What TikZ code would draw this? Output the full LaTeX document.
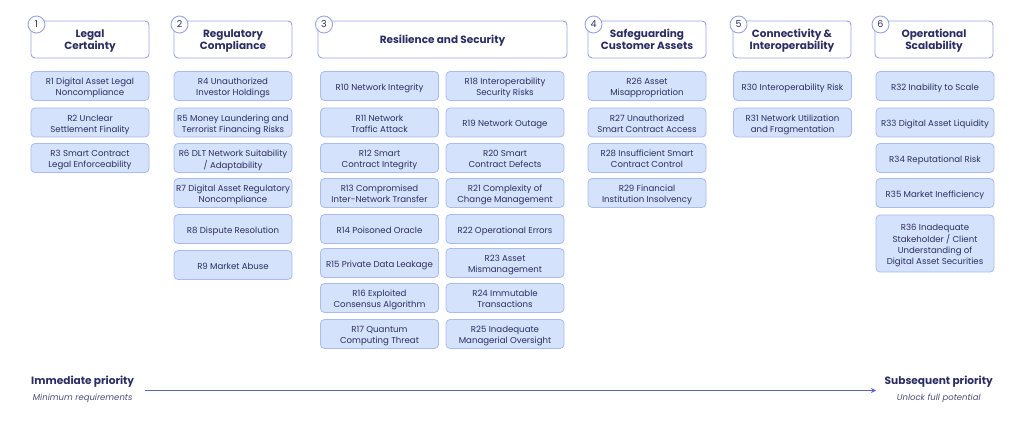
\documentclass[tikz,border=0pt]{standalone}
\usepackage{fontspec}
\setmainfont{Poppins}
\usetikzlibrary{arrows.meta}
\definecolor{navy}{HTML}{2B2E63}
\definecolor{hdrc}{HTML}{9AA3E4}
\definecolor{riskf}{HTML}{D5E2FB}
\definecolor{riskc}{HTML}{A8BCEF}
\definecolor{arrc}{HTML}{5A66CC}
\definecolor{subc}{HTML}{4A4D7A}
\newcommand\lowtxt[2]{\raisebox{-#1}[\height][\depth]{\begin{tabular}{@{}c@{}}#2\end{tabular}}}
\newcommand\hb[1]{\lowtxt{1.3pt}{#1}}
\newcommand\rb[1]{\lowtxt{2pt}{#1}}
\tikzset{
  hdr/.style={draw=hdrc, line width=0.9pt, fill=white, rounded corners=4pt, text=navy,
    font=\fontsize{10.5}{11.6}\selectfont\bfseries, minimum height=37pt, inner sep=0pt},
  num/.style={circle, draw=hdrc, line width=0.9pt, fill=white, minimum size=17pt, inner sep=0pt,
    text=navy, font=\fontsize{9.5}{10}\selectfont},
  risk/.style={draw=riskc, line width=0.8pt, fill=riskf, rounded corners=4pt, text=navy,
    font=\fontsize{8.6}{11.3}\selectfont, minimum width=118pt, minimum height=29pt, inner sep=0pt},
  ttl/.style={text=navy, font=\fontsize{10.6}{12}\selectfont\bfseries, inner sep=0pt},
  sub/.style={text=subc, font=\fontsize{8.5}{10}\selectfont\itshape, inner sep=0pt}
}
\begin{document}
\begin{tikzpicture}[x=1pt,y=-1pt]
\useasboundingbox (0,0) rectangle (1024,430);
% headers
\node[hdr, minimum width=118pt] (h1) at (90,39.5) {\hb{Legal\\Certainty}};
\node[hdr, minimum width=118pt] (h2) at (233,39.5) {\hb{Regulatory\\Compliance}};
\node[hdr, minimum width=249pt] (h3) at (442.5,39.5) {\hb{Resilience and Security}};
\node[hdr, minimum width=118pt] (h4) at (647,39.5) {\hb{Safeguarding\\Customer Assets}};
\node[hdr, minimum width=118pt] (h5) at (792,39.5) {\hb{Connectivity \&\\Interoperability}};
\node[hdr, minimum width=118pt] (h6) at (934,39.5) {\hb{Operational\\Scalability}};
\node[num] (n1) at (36.5,24.5) {1};
\node[num] (n2) at (179.5,24.5) {2};
\node[num] (n3) at (324,24.5) {3};
\node[num] (n4) at (593.5,24.5) {4};
\node[num] (n5) at (738.5,24.5) {5};
\node[num] (n6) at (880.5,24.5) {6};
% column 1
\node[risk] (r1) at (90,86) {\rb{R1 Digital Asset Legal\\Noncompliance}};
\node[risk] (r2) at (90,122.5) {\rb{R2 Unclear\\Settlement Finality}};
\node[risk] (r3) at (90,158) {\rb{R3 Smart Contract\\Legal Enforceability}};
% column 2
\node[risk] (r4) at (233,86) {\rb{R4 Unauthorized\\Investor Holdings}};
\node[risk] (r5) at (233,122.5) {\rb{R5 Money Laundering and\\Terrorist Financing Risks}};
\node[risk] (r6) at (233,158) {\rb{R6 DLT Network Suitability\\/ Adaptability}};
\node[risk] (r7) at (233,193) {\rb{R7 Digital Asset Regulatory\\Noncompliance}};
\node[risk] (r8) at (233,229) {\rb{R8 Dispute Resolution}};
\node[risk] (r9) at (233,265) {\rb{R9 Market Abuse}};
% column 3
\node[risk] (r10) at (379.5,86) {\rb{R10 Network Integrity}};
\node[risk] (r11) at (379.5,122.5) {\rb{R11 Network\\Traffic Attack}};
\node[risk] (r12) at (379.5,158) {\rb{R12 Smart\\Contract Integrity}};
\node[risk] (r13) at (379.5,193) {\rb{R13 Compromised\\Inter-Network Transfer}};
\node[risk] (r14) at (379.5,229) {\rb{R14 Poisoned Oracle}};
\node[risk] (r15) at (379.5,263) {\rb{R15 Private Data Leakage}};
\node[risk] (r16) at (379.5,298) {\rb{R16 Exploited\\Consensus Algorithm}};
\node[risk] (r17) at (379.5,334) {\rb{R17 Quantum\\Computing Threat}};
\node[risk] (r18) at (505,86) {\rb{R18 Interoperability\\Security Risks}};
\node[risk] (r19) at (505,122.5) {\rb{R19 Network Outage}};
\node[risk] (r20) at (505,158) {\rb{R20 Smart\\Contract Defects}};
\node[risk] (r21) at (505,193) {\rb{R21 Complexity of\\Change Management}};
\node[risk] (r22) at (505,229) {\rb{R22 Operational Errors}};
\node[risk] (r23) at (505,263) {\rb{R23 Asset\\Mismanagement}};
\node[risk] (r24) at (505,298) {\rb{R24 Immutable\\Transactions}};
\node[risk] (r25) at (505,334) {\rb{R25 Inadequate\\Managerial Oversight}};
% column 4
\node[risk] (r26) at (647,86) {\rb{R26 Asset\\Misappropriation}};
\node[risk] (r27) at (647,122.5) {\rb{R27 Unauthorized\\Smart Contract Access}};
\node[risk] (r28) at (647,158) {\rb{R28 Insufficient Smart\\Contract Control}};
\node[risk] (r29) at (647,193) {\rb{R29 Financial\\Institution Insolvency}};
% column 5
\node[risk] (r30) at (792.5,86) {\rb{R30 Interoperability Risk}};
\node[risk] (r31) at (792.5,122.5) {\rb{R31 Network Utilization\\and Fragmentation}};
% column 6
\node[risk] (r32) at (935,86) {\rb{R32 Inability to Scale}};
\node[risk] (r33) at (935,122.5) {\rb{R33 Digital Asset Liquidity}};
\node[risk] (r34) at (935,158) {\rb{R34 Reputational Risk}};
\node[risk] (r35) at (935,193) {\rb{R35 Market Inefficiency}};
\node[risk, minimum height=57pt] (r36) at (935,243.5) {\rb{R36 Inadequate\\Stakeholder / Client\\Understanding of\\Digital Asset Securities}};
% bottom priority axis
\node[ttl, anchor=west] (ip) at (31,382) {Immediate priority};
\node[sub] (mr) at (ip.center |- 0,398) {Minimum requirements};
\node[ttl, anchor=east] (sp) at (993,382) {Subsequent priority};
\node[sub] (uf) at (sp.center |- 0,398) {Unlock full potential};
\coordinate (as) at (145,390.5);
\coordinate (ae) at (876,390.5);
\draw[arrc, line width=1.2pt, -{Stealth[length=5pt,width=5pt]}] (as) -- (ae);
\end{tikzpicture}
\end{document}
